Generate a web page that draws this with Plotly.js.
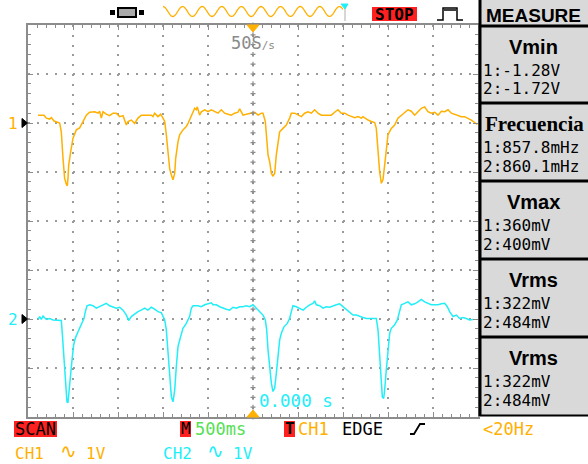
<!DOCTYPE html>
<html><head><meta charset="utf-8">
<script src="https://cdn.plot.ly/plotly-3.0.1.min.js"></script>
<style>html,body{margin:0;padding:0;background:#fff;}#chart{width:588px;height:464px;}</style>
</head><body><div id="chart"></div>
<script>
// ---- data (seconds, volts) ----
const ch1Time = [-2.389,-2.322,-2.296,-2.259,-2.241,-2.211,-2.148,-2.130,-2.111,-2.093,-2.074,-2.063,-2.056,-2.048,-2.026,-2.000,-1.963,-1.926,-1.889,-1.852,-1.815,-1.759,-1.722,-1.704,-1.685,-1.667,-1.630,-1.593,-1.556,-1.519,-1.481,-1.444,-1.407,-1.389,-1.352,-1.315,-1.278,-1.241,-1.185,-1.130,-1.111,-1.093,-1.056,-1.026,-1.000,-0.981,-0.963,-0.944,-0.926,-0.907,-0.889,-0.870,-0.859,-0.833,-0.815,-0.778,-0.741,-0.722,-0.685,-0.667,-0.648,-0.630,-0.619,-0.593,-0.574,-0.537,-0.500,-0.463,-0.426,-0.389,-0.352,-0.315,-0.278,-0.241,-0.204,-0.167,-0.148,-0.111,-0.074,-0.019,0.019,0.056,0.093,0.111,0.130,0.137,0.152,0.167,0.185,0.204,0.222,0.241,0.259,0.278,0.296,0.333,0.370,0.407,0.426,0.463,0.500,0.537,0.574,0.611,0.648,0.685,0.722,0.759,0.796,0.833,0.870,0.907,0.944,0.981,1.019,1.056,1.093,1.130,1.167,1.204,1.222,1.241,1.278,1.315,1.352,1.370,1.389,1.407,1.426,1.444,1.463,1.481,1.500,1.537,1.574,1.611,1.648,1.685,1.722,1.759,1.796,1.833,1.870,1.907,1.944,1.981,2.019,2.056,2.093,2.130,2.167,2.204,2.241,2.278,2.315,2.352,2.389,2.426,2.463,2.493];
const ch1Volts = [0.16,0.16,0.10,0.08,0.11,0.04,0.00,-0.18,-0.72,-1.13,-1.25,-1.28,-1.13,-0.86,-0.59,-0.31,-0.14,-0.10,0.03,0.16,0.22,0.23,0.20,0.24,0.10,0.23,0.18,0.15,0.20,0.20,0.13,0.15,-0.04,0.03,0.06,-0.01,0.10,0.16,0.16,0.16,0.13,0.20,0.13,0.18,0.10,0.03,-0.24,-0.65,-0.93,-1.06,-1.16,-1.03,-0.72,-0.38,-0.24,-0.14,-0.07,-0.01,0.13,0.20,0.30,0.27,0.33,0.16,0.23,0.27,0.23,0.27,0.23,0.20,0.27,0.20,0.18,0.16,0.20,0.22,0.29,0.16,0.18,0.20,0.22,0.16,0.20,0.20,0.10,0.03,-0.31,-0.65,-0.79,-1.03,-1.08,-1.03,-0.65,-0.38,-0.18,-0.11,-0.04,0.10,0.20,0.20,0.16,0.13,0.20,0.23,0.20,0.27,0.20,0.16,0.16,0.16,0.16,0.22,0.27,0.20,0.20,0.16,0.13,0.11,0.13,0.10,0.13,0.10,0.06,0.03,0.01,-0.11,-0.65,-0.99,-1.23,-1.16,-0.86,-0.52,-0.24,-0.11,-0.04,0.10,0.16,0.23,0.27,0.24,0.16,0.23,0.30,0.33,0.23,0.20,0.22,0.16,0.24,0.23,0.27,0.20,0.18,0.16,0.13,0.13,0.10,0.06,0.01,-0.03];
const ch2Time = [-2.389,-2.370,-2.352,-2.333,-2.296,-2.259,-2.222,-2.185,-2.130,-2.119,-2.104,-2.085,-2.067,-2.056,-2.044,-2.030,-2.011,-1.993,-1.974,-1.944,-1.926,-1.900,-1.878,-1.863,-1.844,-1.815,-1.778,-1.741,-1.704,-1.667,-1.630,-1.593,-1.556,-1.519,-1.481,-1.444,-1.407,-1.381,-1.352,-1.315,-1.278,-1.241,-1.204,-1.167,-1.130,-1.093,-1.056,-1.019,-1.000,-0.981,-0.963,-0.944,-0.926,-0.907,-0.889,-0.870,-0.852,-0.833,-0.804,-0.778,-0.741,-0.704,-0.685,-0.667,-0.611,-0.574,-0.537,-0.500,-0.463,-0.444,-0.407,-0.370,-0.333,-0.296,-0.259,-0.222,-0.185,-0.148,-0.111,-0.074,-0.037,0.000,0.037,0.074,0.111,0.137,0.152,0.167,0.185,0.204,0.222,0.241,0.259,0.278,0.296,0.315,0.344,0.381,0.407,0.426,0.444,0.481,0.519,0.556,0.593,0.630,0.667,0.685,0.704,0.741,0.778,0.815,0.852,0.889,0.926,0.963,1.000,1.037,1.074,1.111,1.148,1.185,1.222,1.259,1.296,1.333,1.370,1.389,1.407,1.426,1.437,1.452,1.463,1.481,1.500,1.519,1.537,1.574,1.604,1.630,1.648,1.685,1.722,1.759,1.796,1.833,1.870,1.907,1.944,1.981,2.019,2.056,2.093,2.130,2.159,2.185,2.222,2.259,2.296,2.333,2.370,2.407,2.444];
const ch2Volts = [-0.01,0.05,-0.01,0.06,-0.01,0.01,-0.02,-0.03,-0.03,-0.29,-0.77,-1.38,-1.69,-1.71,-1.45,-1.18,-0.84,-0.53,-0.39,-0.26,-0.19,-0.09,0.01,0.15,0.27,0.29,0.27,0.22,0.25,0.29,0.32,0.27,0.25,0.22,0.24,0.18,0.08,-0.03,0.05,0.10,0.15,0.18,0.22,0.18,0.24,0.20,0.15,0.13,0.06,-0.02,-0.22,-0.63,-1.11,-1.59,-1.69,-1.45,-0.97,-0.56,-0.36,-0.19,-0.09,0.05,0.22,0.27,0.27,0.25,0.29,0.31,0.33,0.29,0.29,0.25,0.22,0.20,0.18,0.24,0.22,0.25,0.25,0.27,0.25,0.29,0.22,0.15,0.08,-0.02,-0.22,-0.63,-1.04,-1.31,-1.48,-1.41,-1.11,-0.70,-0.43,-0.29,-0.16,-0.09,0.01,0.15,0.27,0.25,0.22,0.18,0.24,0.29,0.32,0.37,0.29,0.27,0.22,0.25,0.24,0.27,0.29,0.31,0.25,0.18,0.12,0.08,0.08,0.05,0.03,0.01,0.01,0.01,0.01,-0.22,-0.77,-1.31,-1.59,-1.62,-1.45,-1.04,-0.56,-0.29,-0.19,-0.12,-0.02,0.15,0.29,0.32,0.35,0.29,0.31,0.35,0.40,0.35,0.32,0.29,0.29,0.29,0.31,0.32,0.25,0.15,0.05,0.08,0.01,0.03,0.01,-0.02,-0.01];

const measureTitles = ['Vmin','Frecuencia','Vmax','Vrms','Vrms'];
const measureCh1 = ['1:-1.28V','1:857.8mHz','1:360mV','1:322mV','1:322mV'];
const measureCh2 = ['2:-1.72V','2:860.1mHz','2:400mV','2:484mV','2:484mV'];

const C1 = '#ffb000', C2 = '#22eef8', GRID = '#9a9a9a', MONO = 'DejaVu Sans Mono';

// ---- pixel helpers for decorations ----
const L=28, T=25, W=450, H=392;
const px = x => (x-L)/W, py = y => (T+H-y)/H;
const P = (x,y) => px(x)+','+py(y);
const shapes = [], annotations = [];
function rect(x0,y0,x1,y1,fill,line,layer){shapes.push({type:'rect',xref:'paper',yref:'paper',x0:px(x0),x1:px(x1),y0:py(y1),y1:py(y0),fillcolor:fill,line:line||{width:0},layer:layer||'above'});}
function seg(x0,y0,x1,y1,color,width){shapes.push({type:'line',xref:'paper',yref:'paper',x0:px(x0),x1:px(x1),y0:py(y0),y1:py(y1),line:{color:color,width:width}});}
function path(d,color,width,fill){shapes.push({type:'path',xref:'paper',yref:'paper',path:d,line:{color:color,width:width},fillcolor:fill||'rgba(0,0,0,0)'});}
function txt(x,y,text,size,color,family,anchor,weight){annotations.push({xref:'paper',yref:'paper',x:px(x),y:py(y),text:text,showarrow:false,xanchor:anchor||'left',yanchor:'middle',borderpad:0,font:{size:size,color:color,family:family||MONO,weight:weight||'normal'}});}

// right measure panel
rect(479,0,588,416,'#d9d9d9',null,'below');
seg(480,0,480,416,'#000',3);
[26,103,181,259,337].forEach(y=>seg(480,y,588,y,'#000',3));
seg(480,415.5,588,415.5,'#000',2);
txt(533,15,'MEASURE',19,'#000','Liberation Sans','center','bold');
const tops=[27,104,182,260,338];
measureTitles.forEach((t,i)=>{
  if(t==='Frecuencia') txt(534,tops[i]+20,t,21,'#000','Liberation Serif','center','bold');
  else txt(533,tops[i]+20,t,20,'#000','Liberation Sans','center','bold');
  txt(482,tops[i]+43,measureCh1[i],16,'#000');
  txt(482,tops[i]+62,measureCh2[i],16,'#000');
});

// center crosses on the vertical center line
let cross='';
for(let k=0;k<=40;k++){const y=T+k*H/40; cross+='M'+P(250.5,y)+'L'+P(255.5,y)+'M'+P(253,y-2.5)+'L'+P(253,y+2.5);}
path(cross,'#8c8c8c',1.2);

// top bar icons
rect(110,10,115,15,'#000'); rect(139,10,144,15,'#000');
rect(117,7,137,18,'#000'); rect(119,9,135,16,'#aaa');
let sine='';
for(let x=163;x<=343;x+=1){const y=11.5-5*Math.cos((x-163)/19.6*2*Math.PI); sine+=(x===163?'M':'L')+P(x,y);}
path(sine,C1,1.3);
seg(345,6,345,21,'#c8c8c8',1.5);
path('M'+P(341,4)+'L'+P(348,4)+'L'+P(345,9)+'Z',C2,1,C2);
rect(372,7,417,21,'#ff2020');
txt(394.5,14.5,'STOP',16,'#000',MONO,'center','bold');
path('M'+P(437,20)+'H'+px(443)+'V'+py(8)+'H'+px(457)+'V'+py(20)+'H'+px(463),'#000',1.5);
path('M'+P(444,10)+'L'+P(456,10),'#000',1.5);

// trigger markers
path('M'+P(247,25)+'L'+P(259,25)+'L'+P(253,32)+'Z',C1,1,C1);
path('M'+P(247,417)+'L'+P(259,417)+'L'+P(253,410)+'Z',C1,1,C1);
txt(230,43,'50S<span style="font-size:11px">/s</span>',17,'#8a8a8a');
txt(258,401,'0.000 s',17.5,C2);

// channel markers
txt(13,123,'1',16,C1,MONO,'center');
path('M'+P(22,118.5)+'L'+P(27.5,123)+'L'+P(22,127.5)+'Z','#000',1,'#000');
txt(13,319,'2',16,C2,MONO,'center');
path('M'+P(22,314.5)+'L'+P(27.5,319)+'L'+P(22,323.5)+'Z','#000',1,'#000');

// bottom status rows
rect(14,421,57,437,'#ff2020');
txt(35.5,429,'SCAN',17,'#000',MONO,'center');
rect(180,421,191,437,'#ff2020');
txt(185.5,429,'M',16,'#000',MONO,'center');
txt(194,429,'500ms',17,'#55e055');
rect(284,421,295,437,'#ff2020');
txt(289.5,429,'T',16,'#000',MONO,'center','bold');
txt(297,429,'CH1',17,C1);
txt(341,429,'EDGE',17,'#000');
path('M'+P(410,434)+'L'+P(414,434)+'L'+P(420,424)+'L'+P(425,424),'#000',1.8);
txt(482,429,'&lt;20Hz',17,C1);
txt(14,453,'CH1',16,C1); txt(59,451,'∿',20,C1,'DejaVu Sans'); txt(85,453,'1V',16,C1);
txt(162,453,'CH2',16,C2); txt(206,451,'∿',20,C2,'DejaVu Sans'); txt(232,453,'1V',16,C2);

const traces = [
  {x:ch1Time, y:ch1Volts, type:'scatter', mode:'lines', line:{color:C1,width:1.5}, yaxis:'y', hoverinfo:'skip'},
  {x:ch2Time, y:ch2Volts, type:'scatter', mode:'lines', line:{color:C2,width:1.5}, yaxis:'y2', hoverinfo:'skip'}
];

const layout = {
  width:588, height:464, margin:{l:L,r:588-L-W,t:T,b:464-T-H,pad:0},
  paper_bgcolor:'#fff', plot_bgcolor:'rgba(0,0,0,0)', showlegend:false,
  xaxis:{range:[-2.5,2.5], tick0:0, dtick:0.5, showgrid:true, gridcolor:GRID, gridwidth:1.6, griddash:'2px,7.8px',
    zeroline:false, showline:true, linecolor:'#8c8c8c', linewidth:2, mirror:'ticks', ticks:'inside', ticklen:5, tickcolor:'#8c8c8c', tickwidth:1,
    showticklabels:false, minor:{dtick:0.1, ticks:'inside', ticklen:3, tickcolor:'#8c8c8c', tickwidth:1, showgrid:false}, fixedrange:true},
  yaxis:{range:[-6,2], tick0:0, dtick:1, showgrid:true, gridcolor:GRID, gridwidth:1.6, griddash:'2px,7px',
    zeroline:false, showline:true, linecolor:'#8c8c8c', linewidth:2, mirror:'ticks', ticks:'inside', ticklen:5, tickcolor:'#8c8c8c', tickwidth:1,
    showticklabels:false, minor:{dtick:0.2, ticks:'inside', ticklen:3, tickcolor:'#8c8c8c', tickwidth:1, showgrid:false}, fixedrange:true},
  yaxis2:{range:[-2,6], overlaying:'y', showgrid:false, zeroline:false, showline:false, ticks:'', showticklabels:false, fixedrange:true},
  shapes:shapes, annotations:annotations
};
Plotly.newPlot('chart', traces, layout, {staticPlot:true, displayModeBar:false});
</script></body></html>
